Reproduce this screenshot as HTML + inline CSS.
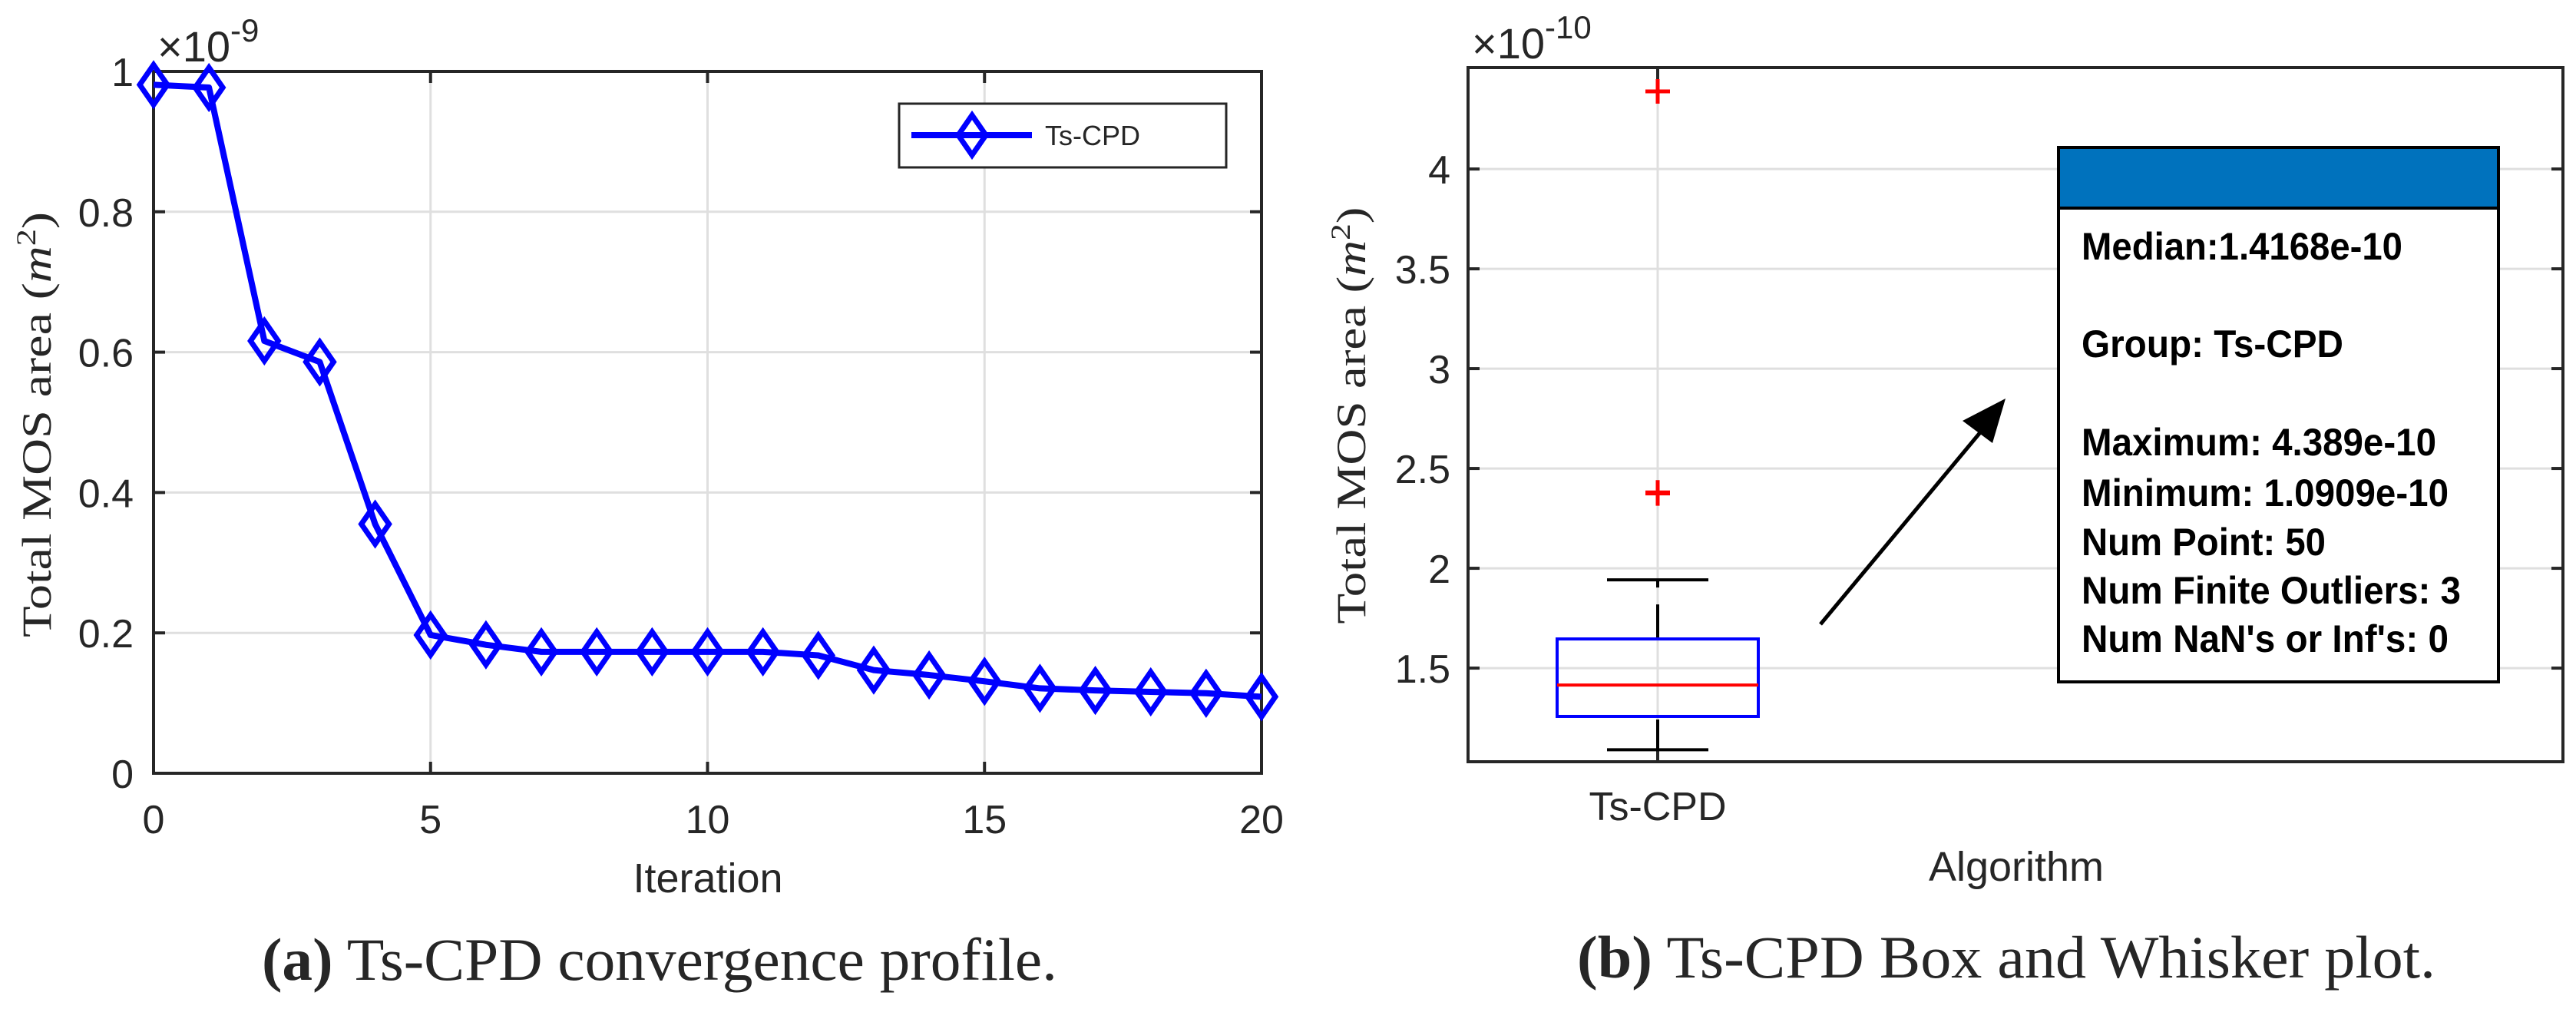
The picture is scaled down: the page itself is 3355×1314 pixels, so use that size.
<!DOCTYPE html>
<html><head><meta charset="utf-8"><style>
html,body{margin:0;padding:0;background:#fff;}
svg{display:block;}
text{font-family:"Liberation Sans Narrow","Liberation Sans",sans-serif;fill:#262626;}
.serif{font-family:"Liberation Serif",serif;}
.bold{font-weight:bold;fill:#000;}
</style></head><body>
<svg id="fig" width="3355" height="1314" viewBox="0 0 3355 1314" xmlns="http://www.w3.org/2000/svg">
<rect width="3355" height="1314" fill="#fff"/>
<g id="left"></g>
<g id="right"></g>
<text class="serif" x="859" y="1276" font-size="78" text-anchor="middle" textLength="1036" lengthAdjust="spacingAndGlyphs" fill="#000"><tspan font-weight="bold">(a)</tspan> Ts-CPD convergence profile.</text>
<text class="serif" x="2613" y="1273" font-size="78" text-anchor="middle" textLength="1118" lengthAdjust="spacingAndGlyphs" fill="#000"><tspan font-weight="bold">(b)</tspan> Ts-CPD Box and Whisker plot.</text>
</svg>
<script>
// ---- Left chart data ----
const iterations = [0,1,2,3,4,5,6,7,8,9,10,11,12,13,14,15,16,17,18,19,20];
const mosArea = [0.981,0.977,0.616,0.586,0.355,0.197,0.183,0.173,0.173,0.173,0.173,0.173,0.168,0.147,0.140,0.131,0.121,0.118,0.116,0.114,0.109];
const leftXTicks = [0,5,10,15,20];
const leftYTicks = [0,0.2,0.4,0.6,0.8,1];
const leftYTickLabels = ["0","0.2","0.4","0.6","0.8","1"];
// ---- Right chart data ----
const boxCategories = ["Ts-CPD"];
const boxQ1 = [1.258];
const boxMedian = [1.415];
const boxQ3 = [1.646];
const whiskerLow = [1.0909];
const whiskerHigh = [1.942];
const outliers = [4.389, 2.38, 2.375];
const rightYTicks = [1.5,2,2.5,3,3.5,4];
const rightYTickLabels = ["1.5","2","2.5","3","3.5","4"];
const infoLines = ["Median:1.4168e-10","Group: Ts-CPD","Maximum: 4.389e-10","Minimum: 1.0909e-10","Num Point: 50","Num Finite Outliers: 3","Num NaN's or Inf's: 0"];

const NS="http://www.w3.org/2000/svg";
function mk(parent,tag,attrs){const e=document.createElementNS(NS,tag);for(const k in attrs)e.setAttribute(k,attrs[k]);parent.appendChild(e);return e;}
const AX="#262626", GRID="#dfdfdf";

// ===== Left =====
(function(){
const g=document.getElementById('left');
const L=200,R=1643,T=93,B=1007;
const xs=v=>L+(v-0)/(20-0)*(R-L);
const ys=v=>B-(v-0)/(1-0)*(B-T);
leftXTicks.forEach(v=>{
  const gl=mk(g,'line',{x1:xs(v),x2:xs(v),y1:T,y2:B,stroke:GRID,'stroke-width':3});
  
  
});
leftYTicks.forEach(v=>{
  const gl=mk(g,'line',{x1:L,x2:R,y1:ys(v),y2:ys(v),stroke:GRID,'stroke-width':3});
  
  
});
const box=mk(g,'rect',{x:L,y:T,width:R-L,height:B-T,fill:'none',stroke:AX,'stroke-width':4});


leftXTicks.forEach(v=>{
  mk(g,'line',{x1:xs(v),x2:xs(v),y1:B,y2:B-15,stroke:AX,'stroke-width':4});
  mk(g,'line',{x1:xs(v),x2:xs(v),y1:T,y2:T+15,stroke:AX,'stroke-width':4});
  const t=mk(g,'text',{x:xs(v),y:1085,'font-size':52,'text-anchor':'middle'});
  t.textContent=String(v);
  
  
});
leftYTicks.forEach((v,i)=>{
  mk(g,'line',{x1:L,x2:L+15,y1:ys(v),y2:ys(v),stroke:AX,'stroke-width':4});
  mk(g,'line',{x1:R,x2:R-15,y1:ys(v),y2:ys(v),stroke:AX,'stroke-width':4});
  const t=mk(g,'text',{x:174,y:ys(v)+19,'font-size':52,'text-anchor':'end'});
  t.textContent=leftYTickLabels[i];
  
  
});
const pts=iterations.map((v,i)=>xs(v)+','+ys(mosArea[i])).join(' ');
const line=mk(g,'polyline',{points:pts,fill:'none',stroke:'#0000ff','stroke-width':8,'stroke-linejoin':'round'});


iterations.forEach((v,i)=>{
  const cx=xs(v),cy=ys(mosArea[i]);
  const d=mk(g,'polygon',{points:`${cx},${cy-26} ${cx+18},${cy} ${cx},${cy+26} ${cx-18},${cy}`,fill:'none',stroke:'#0000ff','stroke-width':7});
  
  
});
const ex=mk(g,'text',{x:205,y:80,'font-size':56});
ex.innerHTML='×10<tspan dy="-26" font-size="42">-9</tspan>';


const xt=mk(g,'text',{x:922,y:1162,'font-size':54,'text-anchor':'middle'});
xt.textContent='Iteration';


const yt=mk(g,'text',{x:0,y:0,'font-size':54,'text-anchor':'middle','class':'serif',transform:'translate(66,553) rotate(-90)',textLength:554,lengthAdjust:'spacingAndGlyphs'});
yt.innerHTML='Total MOS area (<tspan font-style="italic">m</tspan><tspan dy="-20" font-size="36">2</tspan><tspan dy="20">)</tspan>';


const lg=mk(g,'g',{});


mk(lg,'rect',{x:1171,y:135,width:426,height:83,fill:'#fff',stroke:AX,'stroke-width':3});
mk(lg,'line',{x1:1187,x2:1344,y1:176,y2:176,stroke:'#0000ff','stroke-width':8});
mk(lg,'polygon',{points:'1266,150 1284,176 1266,202 1248,176',fill:'none',stroke:'#0000ff','stroke-width':7});
const lt=mk(lg,'text',{x:1361,y:189,'font-size':36,fill:'#000'});
lt.textContent='Ts-CPD';


})();

// ===== Right =====
(function(){
const g=document.getElementById('right');
const L=1912,R=3338,T=88,B=992;
const ymin=1.031,ymax=4.508;
const ys=v=>B-(v-ymin)/(ymax-ymin)*(B-T);
const cx=2159;
mk(g,'line',{x1:cx,x2:cx,y1:T,y2:B,stroke:GRID,'stroke-width':3});
rightYTicks.forEach(v=>{
  const gl=mk(g,'line',{x1:L,x2:R,y1:ys(v),y2:ys(v),stroke:GRID,'stroke-width':3});
  
  
});
const box=mk(g,'rect',{x:L,y:T,width:R-L,height:B-T,fill:'none',stroke:AX,'stroke-width':4});


mk(g,'line',{x1:cx,x2:cx,y1:B,y2:B-15,stroke:AX,'stroke-width':4});
mk(g,'line',{x1:cx,x2:cx,y1:T,y2:T+15,stroke:AX,'stroke-width':4});
rightYTicks.forEach((v,i)=>{
  mk(g,'line',{x1:L,x2:L+15,y1:ys(v),y2:ys(v),stroke:AX,'stroke-width':4});
  mk(g,'line',{x1:R,x2:R-15,y1:ys(v),y2:ys(v),stroke:AX,'stroke-width':4});
  const t=mk(g,'text',{x:1889,y:ys(v)+19,'font-size':52,'text-anchor':'end'});
  t.textContent=rightYTickLabels[i];
  
  
});
boxCategories.forEach((c,i)=>{
  const hw=131, cw=66;
  const w1=mk(g,'line',{x1:cx,x2:cx,y1:ys(boxQ3[i]),y2:ys(whiskerHigh[i]),stroke:'#000','stroke-width':4,'stroke-dasharray':'45,22'});
  
  
  const w2=mk(g,'line',{x1:cx,x2:cx,y1:ys(boxQ1[i])+4,y2:ys(whiskerLow[i]),stroke:'#000','stroke-width':4});
  
  
  const c1=mk(g,'line',{x1:cx-cw,x2:cx+cw,y1:ys(whiskerHigh[i]),y2:ys(whiskerHigh[i]),stroke:'#000','stroke-width':4});
  
  
  const c2=mk(g,'line',{x1:cx-cw,x2:cx+cw,y1:ys(whiskerLow[i]),y2:ys(whiskerLow[i]),stroke:'#000','stroke-width':4});
  
  
  const b=mk(g,'rect',{x:cx-hw,y:ys(boxQ3[i]),width:2*hw,height:ys(boxQ1[i])-ys(boxQ3[i]),fill:'none',stroke:'#0000ff','stroke-width':4});
  
  
  const m=mk(g,'line',{x1:cx-hw,x2:cx+hw,y1:ys(boxMedian[i]),y2:ys(boxMedian[i]),stroke:'#ff0000','stroke-width':4});
  
  
  const t=mk(g,'text',{x:cx,y:1068,'font-size':52,'text-anchor':'middle'});
  t.textContent=c;
  
  
});
outliers.forEach(v=>{
  const y=ys(v);
  const o=mk(g,'path',{d:`M${cx-16},${y}H${cx+16}M${cx},${y-16}V${y+16}`,stroke:'#ff0000','stroke-width':5,fill:'none'});
  
  
});
const ex=mk(g,'text',{x:1917,y:76,'font-size':56});
ex.innerHTML='×10<tspan dy="-26" font-size="42">-10</tspan>';


const xt=mk(g,'text',{x:2626,y:1147,'font-size':54,'text-anchor':'middle'});
xt.textContent='Algorithm';


const yt=mk(g,'text',{x:0,y:0,'font-size':54,'text-anchor':'middle','class':'serif',transform:'translate(1778,541) rotate(-90)',textLength:543,lengthAdjust:'spacingAndGlyphs'});
yt.innerHTML='Total MOS area (<tspan font-style="italic">m</tspan><tspan dy="-20" font-size="36">2</tspan><tspan dy="20">)</tspan>';


const ar=mk(g,'g',{});


mk(ar,'line',{x1:2371,y1:813,x2:2590,y2:550,stroke:'#000','stroke-width':5});
mk(ar,'polygon',{points:'2612,519 2556,548 2595,577',fill:'#000'});
const ib=mk(g,'g',{});


mk(ib,'rect',{x:2681,y:192,width:573,height:696,fill:'#fff',stroke:'#000','stroke-width':4});
const hd=mk(ib,'rect',{x:2681,y:192,width:573,height:79,fill:'#0072bd',stroke:'#000','stroke-width':4});


const lineY=[338,465,593,659,723,786,849];
const lineW=[418,341,462,478,318,494,478];
infoLines.forEach((s,i)=>{
  const t=mk(ib,'text',{x:2711,y:lineY[i],'font-size':50,'class':'bold',textLength:lineW[i],lengthAdjust:'spacingAndGlyphs'});
  t.textContent=s;
  
  
});
})();
</script>
</body></html>
